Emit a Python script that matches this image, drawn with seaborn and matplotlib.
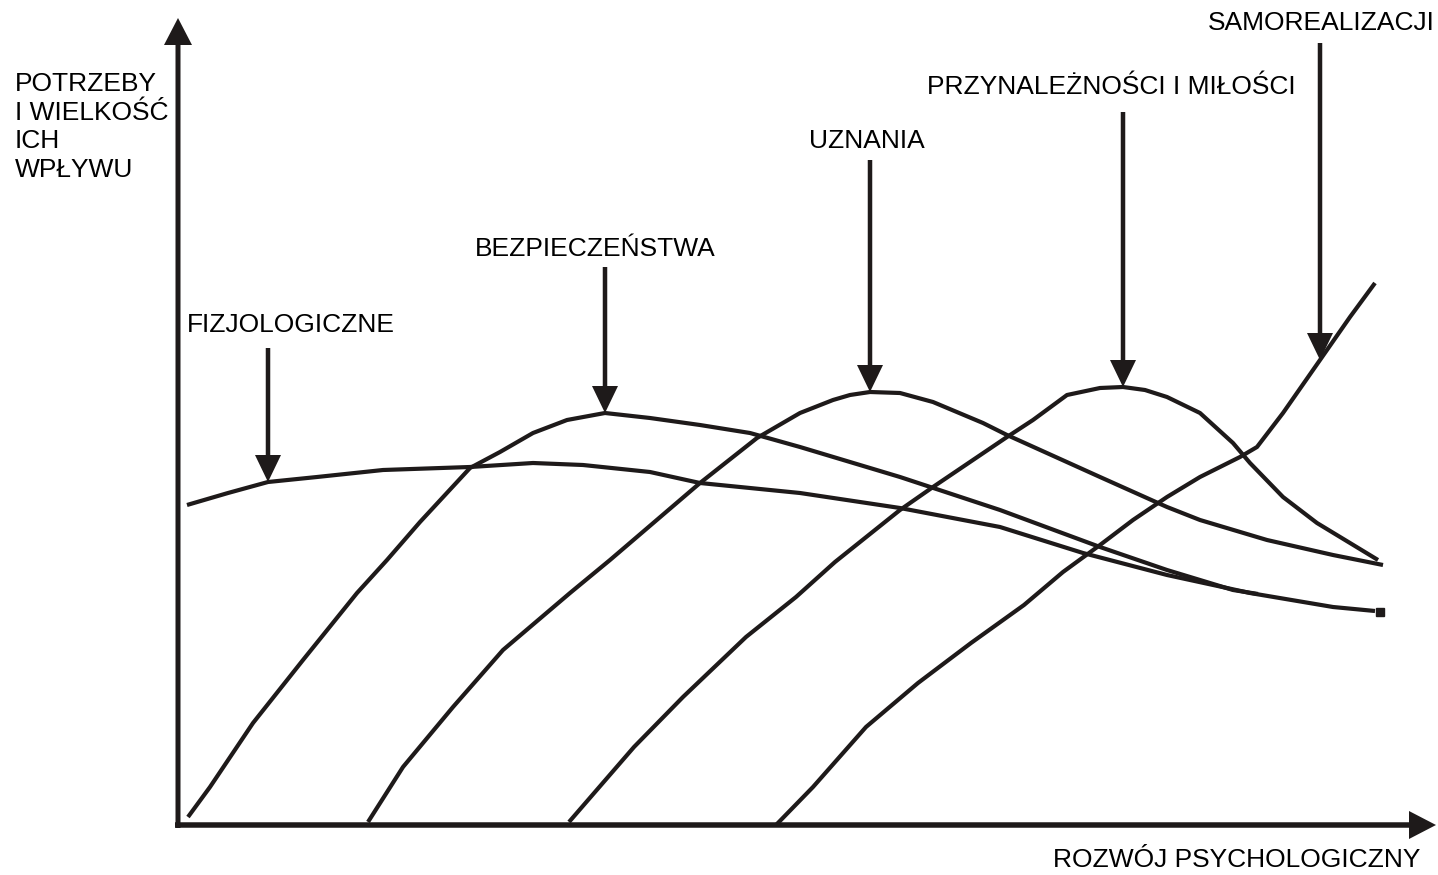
import matplotlib
matplotlib.use("Agg")
import matplotlib.pyplot as plt
import seaborn as sns
import pandas as pd

# ---- data (x: psychological development, y: strength of the need) ----
fizjologiczne_x = [9, 50, 90, 139, 205, 292, 355, 405, 472, 522, 622, 722, 822, 905, 989, 1072, 1155, 1197]
fizjologiczne_y = [320, 332, 343, 348, 355, 358, 362, 360, 353, 342, 332, 317, 298, 272, 250, 232, 218, 214]

bezpieczenstwa_x = [10, 32, 75, 125, 179, 209, 242, 292, 322, 355, 389, 427, 472, 522, 572, 622, 672, 722, 822, 922, 989, 1055, 1080]
bezpieczenstwa_y = [8, 38, 102, 165, 232, 265, 303, 357, 373, 392, 405, 412, 407, 400, 392, 378, 363, 348, 315, 278, 255, 235, 231]

uznania_x = [190, 225, 275, 325, 392, 432, 522, 579, 622, 655, 672, 692, 722, 755, 805, 829, 922, 989, 1022, 1089, 1155, 1205]
uznania_y = [3, 58, 118, 175, 232, 265, 342, 387, 412, 425, 430, 433, 432, 423, 402, 390, 348, 318, 305, 285, 270, 260]

przynaleznosci_x = [391, 456, 505, 568, 618, 657, 722, 755, 829, 855, 889, 922, 945, 967, 989, 1022, 1055, 1072, 1105, 1139, 1172, 1200]
przynaleznosci_y = [3, 78, 128, 188, 228, 263, 315, 338, 388, 405, 430, 437, 438, 435, 428, 412, 382, 362, 328, 302, 282, 265]

samorealizacji_x = [598, 635, 688, 740, 793, 846, 885, 922, 955, 989, 1022, 1062, 1079, 1105, 1142, 1172, 1197]
samorealizacji_y = [0, 38, 98, 142, 182, 220, 253, 280, 305, 328, 348, 368, 378, 412, 465, 508, 542]

need_names = ["FIZJOLOGICZNE", "BEZPIECZEŃSTWA", "UZNANIA",
              "PRZYNALEŻNOŚCI I MIŁOŚCI", "SAMOREALIZACJI"]
# index of the curve point each pointer arrow indicates
pointer_index = [2, 11, 11, 12, 14]
# top of each pointer arrow shaft
pointer_top = [477, 558, 665, 713, 782]
# label anchors (left, vertical centre)
label_x = [9, 297, 631, 749, 1030]
label_y = [500, 576, 684, 738, 802]

y_title = "POTRZEBY\nI WIELKOŚĆ\nICH\nWPŁYWU"
x_title = "ROZWÓJ PSYCHOLOGICZNY"

curves_x = [fizjologiczne_x, bezpieczenstwa_x, uznania_x, przynaleznosci_x, samorealizacji_x]
curves_y = [fizjologiczne_y, bezpieczenstwa_y, uznania_y, przynaleznosci_y, samorealizacji_y]

frames = []
for name, xs, ys in zip(need_names, curves_x, curves_y):
    frames.append(pd.DataFrame({"x": xs, "y": ys, "potrzeba": name}))
df = pd.concat(frames, ignore_index=True)

# ---- drawing ----
sns.set_theme(style="white")
plt.rcParams["font.family"] = ["Liberation Sans", "DejaVu Sans"]

INK = "#1e1a1a"
FS = 19

fig = plt.figure(figsize=(14.38, 8.75), dpi=100)
ax = fig.add_axes([0, 0, 1, 1])
ax.set_xlim(-178, 1260)
ax.set_ylim(-50, 825)
ax.axis("off")

sns.lineplot(data=df, x="x", y="y", units="potrzeba", estimator=None, sort=False,
             color=INK, linewidth=3.0, ax=ax, legend=False,
             solid_joinstyle="round", solid_capstyle="butt")

# small end mark on the physiological curve
ax.plot(fizjologiczne_x[-1] + 5, fizjologiczne_y[-1] - 1, marker="s", markersize=6,
        color=INK, linestyle="none")

# axes with arrow heads
ax.arrow(0, -3, 0, 810, width=5, head_width=28, head_length=27,
         length_includes_head=True, color=INK, lw=0)
ax.arrow(-3, 0, 1261, 0, width=5.5, head_width=28, head_length=27,
         length_includes_head=True, color=INK, lw=0)

# pointer arrows and labels
for i, name in enumerate(need_names):
    xs, ys = curves_x[i], curves_y[i]
    tx, ty = xs[pointer_index[i]], ys[pointer_index[i]]
    ax.arrow(tx, pointer_top[i], 0, ty - pointer_top[i], width=4.5, head_width=26,
             head_length=27, length_includes_head=True, color=INK, lw=0)
    ax.text(label_x[i], label_y[i], name, ha="left", va="center",
            fontsize=FS, color="black")

ax.text(-163, 753, y_title, ha="left", va="top", fontsize=FS, color="black",
        linespacing=1.25)
ax.text(1242, -35, x_title, ha="right", va="center", fontsize=FS, color="black")

fig.savefig("out.png", dpi=100, facecolor="white")
